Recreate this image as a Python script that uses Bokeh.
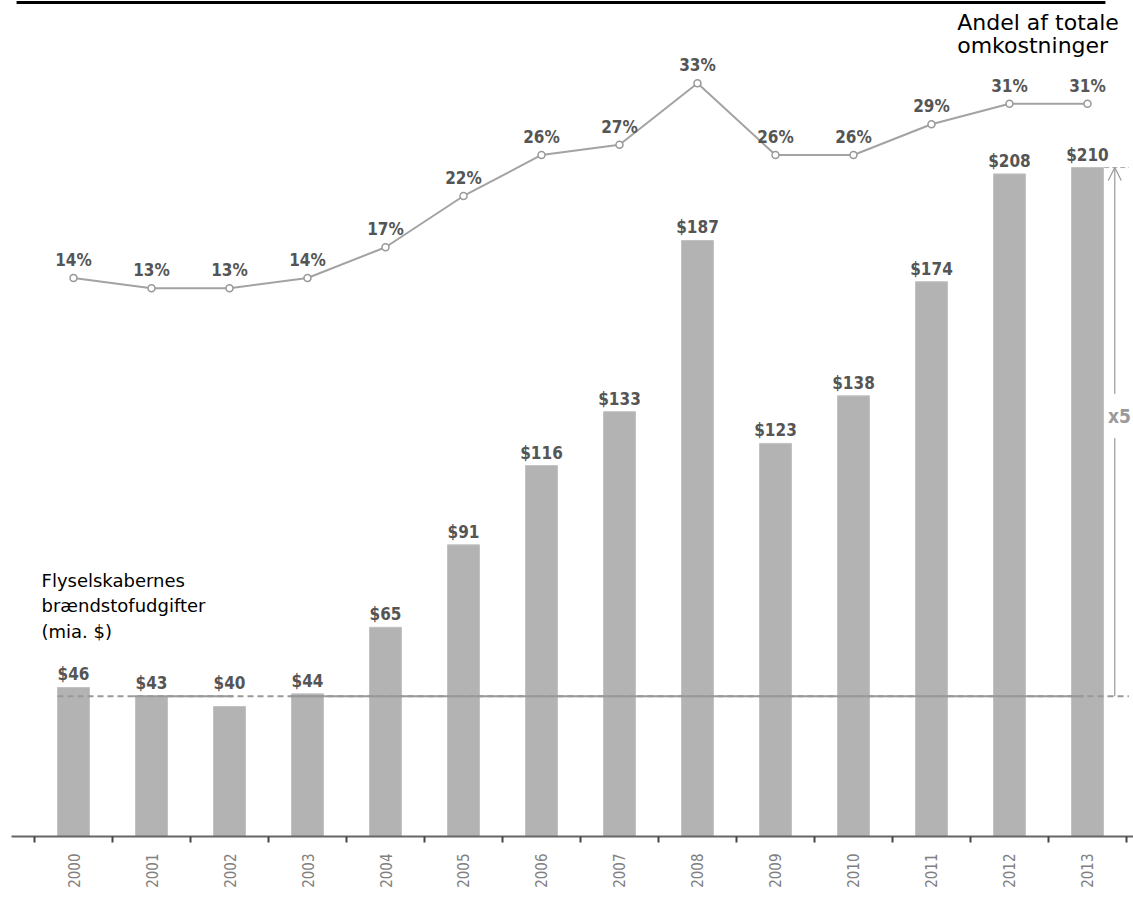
import math
from bokeh.plotting import figure
from bokeh.models import Range1d, FixedTicker, Arrow, OpenHead
from bokeh.core.properties import value
from bokeh.embed import file_html
from bokeh.resources import INLINE

years = ["2000", "2001", "2002", "2003", "2004", "2005", "2006",
         "2007", "2008", "2009", "2010", "2011", "2012", "2013"]
fuel_cost = [46, 43, 40, 44, 65, 91, 116, 133, 187, 123, 138, 174, 208, 210]
cost_share = [14, 13, 13, 14, 17, 22, 26, 27, 33, 26, 26, 29, 31, 31]
fuel_labels = ["$%d" % v for v in fuel_cost]
share_labels = ["%d%%" % v for v in cost_share]
fuel_title = "Flyselskabernes\nbrændstofudgifter\n(mia. $)"
share_title = "Andel af totale\nomkostninger"

NARROW = "'Liberation Sans Narrow', 'Arial Narrow', 'DejaVu Sans Condensed', sans-serif"
VERDANA = "'DejaVu Sans', Verdana, sans-serif"

xs = list(range(len(years)))
base = -1

p = figure(width=1133, height=901, output_backend="svg", toolbar_location=None,
           x_range=Range1d(-0.795, 13.59), y_range=Range1d(base, 262.7),
           y_axis_location=None, min_border_left=11, min_border_right=0,
           min_border_top=0, min_border_bottom=65)
p.extra_y_ranges = {"pct": Range1d(-40.49, 41.07)}
p.grid.visible = False
p.outline_line_color = None
p.background_fill_color = "white"
p.border_fill_color = "white"

ax = p.xaxis[0]
ax.ticker = FixedTicker(ticks=xs, minor_ticks=[i - 0.5 for i in range(len(years) + 1)])
ax.major_label_overrides = {i: y for i, y in enumerate(years)}
ax.major_tick_line_color = None
ax.major_tick_out = 0
ax.major_tick_in = 0
ax.minor_tick_line_color = "#444444"
ax.minor_tick_line_width = 2
ax.minor_tick_out = 6
ax.minor_tick_in = 0
ax.axis_line_color = "#666666"
ax.axis_line_width = 2
ax.major_label_orientation = math.pi / 2
ax.major_label_standoff = 11
ax.major_label_text_font = NARROW
ax.major_label_text_font_size = "15px"
ax.major_label_text_color = "#808080"

# reference level (average 2000-2003)
ref = sum(fuel_cost[:4]) / 4.0
top = fuel_cost[-1]
ratio = round(top / ref)

# bars
bw = 0.41
p.vbar(x=xs, top=fuel_cost, bottom=base, width=bw, fill_color="#b3b3b3",
       line_color="#c2c2c2", line_width=1)
label_pos = [max(v, ref) for v in fuel_cost]
p.text(x=xs, y=label_pos, text=fuel_labels, text_align="center", text_baseline="bottom",
       y_offset=-3, text_font=value(NARROW), text_font_style="bold",
       text_font_size="17px", text_color="#555555")

# reference line and growth arrow
x_end = xs[-1] + 0.53
p.line(x=[xs[0] - bw / 2, x_end], y=[ref, ref], line_color="#999999", line_width=2,
       line_dash="6 4")
p.line(x=[0.77, 2.05], y=[ref, ref], line_color="#999999", line_width=2)
p.line(x=[2.78, xs[-1] - 0.05], y=[ref, ref], line_color="#999999", line_width=2)
p.line(x=[xs[-1] + bw / 2 + 0.01, x_end], y=[top, top], line_color="#aaaaaa",
       line_width=1, line_dash="5 3")
ax_x = xs[-1] + 0.35
lab_y = ref + 0.53 * (top - ref)
p.line(x=[ax_x, ax_x], y=[ref, lab_y - 7], line_color="#999999", line_width=1.2)
p.add_layout(Arrow(end=OpenHead(size=13, line_color="#999999", line_width=1.2),
                   x_start=ax_x, y_start=lab_y + 7, x_end=ax_x, y_end=top,
                   line_color="#999999", line_width=1.2))
p.text(x=[ax_x + 0.06], y=[lab_y], text=["x%d" % ratio], text_align="center",
       text_baseline="middle", text_font=value(NARROW), text_font_style="bold",
       text_font_size="19px", text_color="#9a9a9a")

# share line
p.line(x=xs, y=cost_share, y_range_name="pct", line_color="#a3a3a3", line_width=2)
p.scatter(x=xs, y=cost_share, y_range_name="pct", size=7, fill_color="white",
          line_color="#999999", line_width=1.5)
p.text(x=xs, y=cost_share, text=share_labels, y_range_name="pct", text_align="center",
       text_baseline="bottom", y_offset=-8, text_font=value(NARROW),
       text_font_style="bold", text_font_size="17px", text_color="#555555")

# titles
p.text(x=[11.33], y=[40.14], text=[share_title], y_range_name="pct",
       text_align="left", text_baseline="top", text_font=value(VERDANA),
       text_font_size="22px", text_color="#000000", text_line_height=0.9)
p.text(x=[-0.41], y=[83], text=[fuel_title], text_align="left", text_baseline="top",
       text_font=value(VERDANA), text_font_size="18px", text_color="#000000",
       text_line_height=1.2)

# header rule
p.line(x=[-0.73, 13.23], y=[40.87, 40.87], y_range_name="pct", line_color="black",
       line_width=3)

open("out.html", "w").write(file_html(p, INLINE))
